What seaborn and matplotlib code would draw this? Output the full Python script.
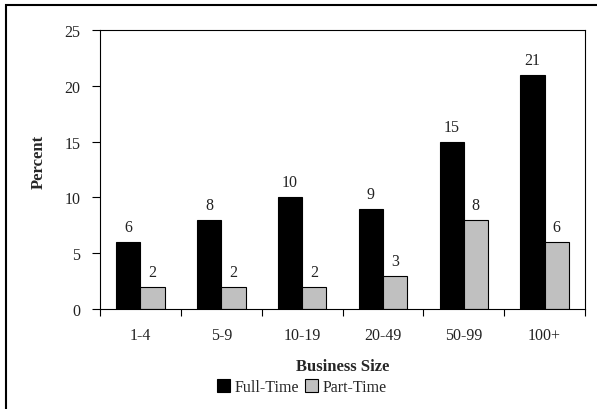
import matplotlib
matplotlib.use("Agg")
import matplotlib.pyplot as plt
import seaborn as sns
import pandas as pd
import numpy as np
from matplotlib.patches import Rectangle, Patch

categories = ["1-4", "5-9", "10-19", "20-49", "50-99", "100+"]
full_time = [6, 8, 10, 9, 15, 21]
part_time = [2, 2, 2, 3, 8, 6]
series_names = ["Full-Time", "Part-Time"]
y_ticks = [0, 5, 10, 15, 20, 25]

df = pd.DataFrame({
    "size": categories * 2,
    "value": full_time + part_time,
    "type": [series_names[0]] * len(categories) + [series_names[1]] * len(categories),
})

sns.set_theme(style="white")
plt.rcParams["font.family"] = ["Liberation Serif", "DejaVu Serif"]

fig = plt.figure(figsize=(5.97, 4.10), dpi=100)
ax = fig.add_axes([100/597, 1 - 310/410, 485/597, 279/410])

sns.barplot(data=df, x="size", y="value", hue="type", order=categories,
            hue_order=series_names, palette=["#000000", "#c0c0c0"],
            width=0.6, edgecolor="black", linewidth=0.8, saturation=1,
            legend=False, ax=ax)

for cont in ax.containers:
    ax.bar_label(cont, labels=[f"{v:g}" for v in cont.datavalues],
                 padding=5, fontsize=11.5, color="#222222")

ax.set_ylim(0, 25)
ax.set_yticks(y_ticks)
ax.set_xlim(-0.5, len(categories) - 0.5)
ax.set_xticks(np.arange(-0.5, len(categories)), labels=[""] * (len(categories) + 1))
ax.set_xticks(range(len(categories)), labels=categories, minor=True)
ax.tick_params(axis="x", which="major", direction="out", length=5, width=0.8, color="black", bottom=True)
ax.tick_params(axis="x", which="minor", length=0, labelsize=11.5, pad=13, labelcolor="#222222")
ax.tick_params(axis="y", direction="out", length=6, width=0.8, color="black", left=True,
               labelsize=11.5, pad=8, labelcolor="#222222")
for s in ax.spines.values():
    s.set_color("black")
    s.set_linewidth(0.8)

ax.set_xlabel("Business Size", fontsize=12, fontweight="bold", labelpad=11)
ax.set_ylabel("Percent", fontsize=12, fontweight="bold")
ax.yaxis.set_label_coords(-0.11, 0.53)

handles = [Patch(facecolor="#000000", edgecolor="black", linewidth=0.8),
           Patch(facecolor="#c0c0c0", edgecolor="black", linewidth=0.8)]
fig.legend(handles, series_names, loc="center", bbox_to_anchor=(302/597, 1 - 388/410),
           ncol=2, frameon=False, fontsize=11.5, handlelength=0.8, handleheight=0.8,
           handletextpad=0.3, columnspacing=0.4)

fig.add_artist(Rectangle((6/597, -0.1), 1.2, 1 - 6/410 + 0.1, transform=fig.transFigure,
                         fill=False, edgecolor="black", linewidth=1.5))

fig.savefig("out.png", dpi=100)
